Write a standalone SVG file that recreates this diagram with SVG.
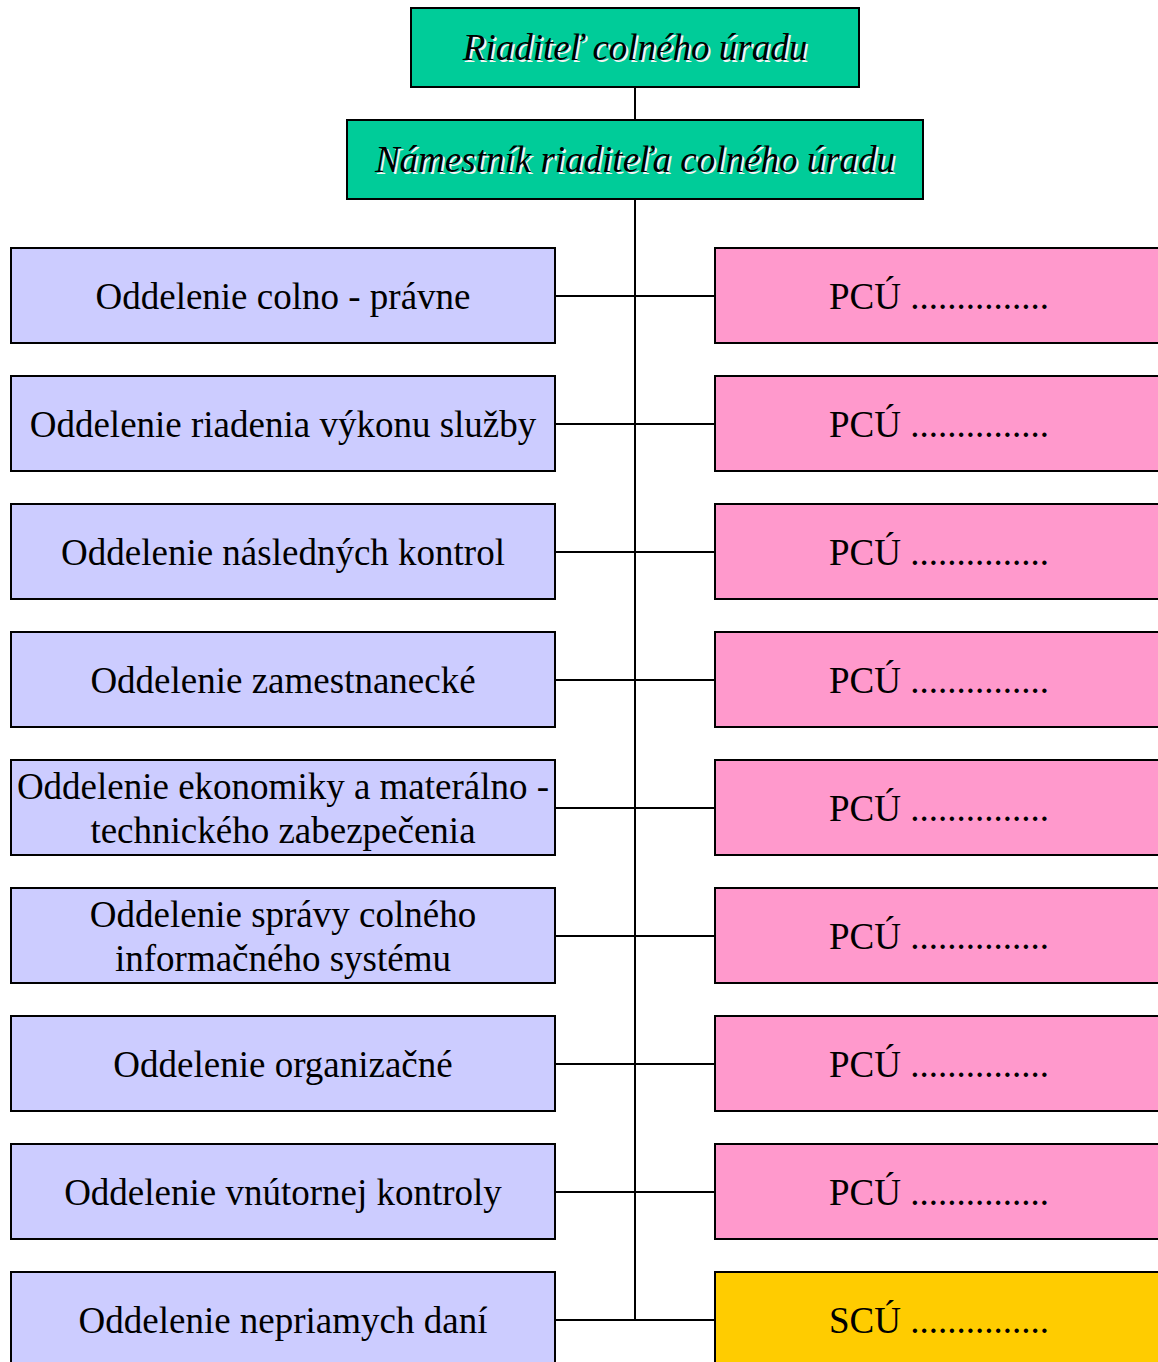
<svg xmlns="http://www.w3.org/2000/svg" width="1158" height="1362" viewBox="0 0 1158 1362">
<style>
.box{stroke:#000;stroke-width:2}
.g{fill:#00CC99}
.l{fill:#CCCCFF}
.p{fill:#FF99CC}
.y{fill:#FFCC00}
text{font-family:"Liberation Serif","Times New Roman",serif;font-size:37px;fill:#000}
.c{text-anchor:middle}
.it{font-style:italic}
.sh{fill:#f4f4f4}
.conn{stroke:#000;stroke-width:2;fill:none}
</style>
<rect width="1158" height="1362" fill="#fff"/>
<g id="connectors">
<line class="conn" x1="635" y1="87" x2="635" y2="120"/>
<line class="conn" x1="635" y1="199" x2="635" y2="1321"/>
<line class="conn" x1="555" y1="296" x2="715" y2="296"/>
<line class="conn" x1="555" y1="424" x2="715" y2="424"/>
<line class="conn" x1="555" y1="552" x2="715" y2="552"/>
<line class="conn" x1="555" y1="680" x2="715" y2="680"/>
<line class="conn" x1="555" y1="808" x2="715" y2="808"/>
<line class="conn" x1="555" y1="936" x2="715" y2="936"/>
<line class="conn" x1="555" y1="1064" x2="715" y2="1064"/>
<line class="conn" x1="555" y1="1192" x2="715" y2="1192"/>
<line class="conn" x1="555" y1="1320" x2="715" y2="1320"/>
</g>
<g id="riaditel">
<rect class="box g" x="411" y="8" width="448" height="79"/>
<text class="c it sh" x="637" y="62">Riaditeľ colného úradu</text>
<text class="c it" x="635" y="60">Riaditeľ colného úradu</text>
</g>
<g id="namestnik">
<rect class="box g" x="347" y="120" width="576" height="79"/>
<text class="c it sh" x="637" y="174">Námestník riaditeľa colného úradu</text>
<text class="c it" x="635" y="172">Námestník riaditeľa colného úradu</text>
</g>
<g id="odd1">
<rect class="box l" x="11" y="248" width="544" height="95"/>
<text class="c" x="283" y="309">Oddelenie colno - právne</text>
</g>
<g id="odd2">
<rect class="box l" x="11" y="376" width="544" height="95"/>
<text class="c" x="283" y="437">Oddelenie riadenia výkonu služby</text>
</g>
<g id="odd3">
<rect class="box l" x="11" y="504" width="544" height="95"/>
<text class="c" x="283" y="565">Oddelenie následných kontrol</text>
</g>
<g id="odd4">
<rect class="box l" x="11" y="632" width="544" height="95"/>
<text class="c" x="283" y="693">Oddelenie zamestnanecké</text>
</g>
<g id="odd5">
<rect class="box l" x="11" y="760" width="544" height="95"/>
<text class="c" x="283" y="799">Oddelenie ekonomiky a materálno -</text>
<text class="c" x="283" y="843">technického zabezpečenia</text>
</g>
<g id="odd6">
<rect class="box l" x="11" y="888" width="544" height="95"/>
<text class="c" x="283" y="927">Oddelenie správy colného</text>
<text class="c" x="283" y="971">informačného systému</text>
</g>
<g id="odd7">
<rect class="box l" x="11" y="1016" width="544" height="95"/>
<text class="c" x="283" y="1077">Oddelenie organizačné</text>
</g>
<g id="odd8">
<rect class="box l" x="11" y="1144" width="544" height="95"/>
<text class="c" x="283" y="1205">Oddelenie vnútornej kontroly</text>
</g>
<g id="odd9">
<rect class="box l" x="11" y="1272" width="544" height="110"/>
<text class="c" x="283" y="1333">Oddelenie nepriamych daní</text>
</g>
<g id="pcu1">
<rect class="box p" x="715" y="248" width="460" height="95"/>
<text x="829" y="309">PCÚ ...............</text>
</g>
<g id="pcu2">
<rect class="box p" x="715" y="376" width="460" height="95"/>
<text x="829" y="437">PCÚ ...............</text>
</g>
<g id="pcu3">
<rect class="box p" x="715" y="504" width="460" height="95"/>
<text x="829" y="565">PCÚ ...............</text>
</g>
<g id="pcu4">
<rect class="box p" x="715" y="632" width="460" height="95"/>
<text x="829" y="693">PCÚ ...............</text>
</g>
<g id="pcu5">
<rect class="box p" x="715" y="760" width="460" height="95"/>
<text x="829" y="821">PCÚ ...............</text>
</g>
<g id="pcu6">
<rect class="box p" x="715" y="888" width="460" height="95"/>
<text x="829" y="949">PCÚ ...............</text>
</g>
<g id="pcu7">
<rect class="box p" x="715" y="1016" width="460" height="95"/>
<text x="829" y="1077">PCÚ ...............</text>
</g>
<g id="pcu8">
<rect class="box p" x="715" y="1144" width="460" height="95"/>
<text x="829" y="1205">PCÚ ...............</text>
</g>
<g id="scu">
<rect class="box y" x="715" y="1272" width="460" height="110"/>
<text x="829" y="1333">SCÚ ...............</text>
</g>
</svg>
